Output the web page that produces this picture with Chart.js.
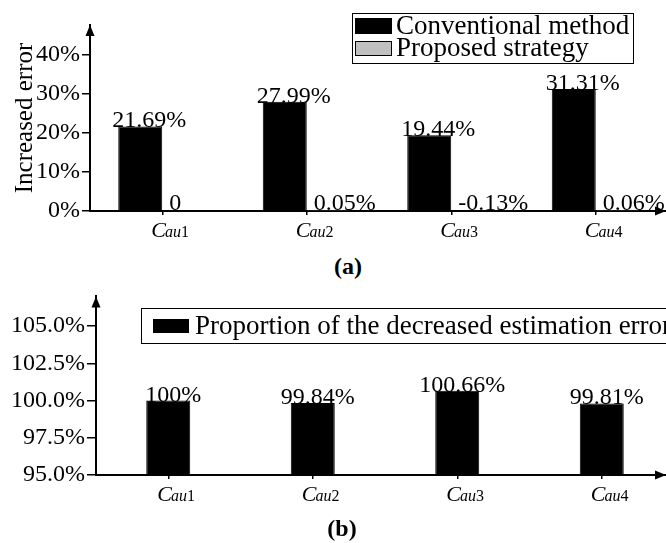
<!DOCTYPE html>
<html>
<head>
<meta charset="utf-8">
<script src="https://cdn.jsdelivr.net/npm/chart.js@4.4.0/dist/chart.umd.min.js"></script>
<style>
  body { margin: 0; background: #fff; }
  #wrap { position: relative; width: 666px; height: 543px; overflow: hidden; background: #fff; }
  canvas { position: absolute; left: 0; }
  .cap { position: absolute; font: bold 24px "Liberation Serif", serif; color: #000; transform: translateX(-50%); }
</style>
</head>
<body>
<div id="wrap">
  <canvas id="chartA" width="668" height="240" style="top:0"></canvas>
  <canvas id="chartB" width="674" height="240" style="top:280px"></canvas>
  <div class="cap" style="left:348px; top:253px">(a)</div>
  <div class="cap" style="left:342px; top:515px">(b)</div>
</div>
<script>
const categories = ['Cau1', 'Cau2', 'Cau3', 'Cau4'];
const conventional = [21.69, 27.99, 19.44, 31.31];
const proposed = [0, 0.05, -0.13, 0.06];
const proportion = [100, 99.84, 100.66, 99.81];
const ticksA = [0, 10, 20, 30, 40];
const ticksB = [95, 97.5, 100, 102.5, 105];

const serif = '"Liberation Serif", serif';
Chart.defaults.font.family = serif;
Chart.defaults.color = '#000';

function fmt(v) {
  if (v === 0) return '0';
  if (Number.isInteger(v)) return v + '%';
  return v.toFixed(2) + '%';
}

// arrow heads on both axes
const axisArrows = {
  id: 'axisArrows',
  afterDraw(chart) {
    const ctx = chart.ctx, a = chart.chartArea;
    ctx.save();
    ctx.fillStyle = '#000';
    ctx.beginPath();
    ctx.moveTo(a.left, a.top);
    ctx.lineTo(a.left - 4.5, a.top + 11);
    ctx.lineTo(a.left + 4.5, a.top + 11);
    ctx.closePath();
    ctx.fill();
    ctx.beginPath();
    ctx.moveTo(666, a.bottom);
    ctx.lineTo(655, a.bottom - 4.5);
    ctx.lineTo(655, a.bottom + 4.5);
    ctx.closePath();
    ctx.fill();
    ctx.restore();
  }
};

// category labels like C with subscript "au1"
const subLabels = {
  id: 'subLabels',
  afterDraw(chart) {
    const ctx = chart.ctx, xs = chart.scales.x, base = chart.chartArea.bottom + 26;
    ctx.save();
    ctx.fillStyle = '#000';
    ctx.textBaseline = 'alphabetic';
    ctx.textAlign = 'left';
    chart.data.labels.forEach((lab, i) => {
      let x = xs.getPixelForTick(i) - 11;
      ctx.font = 'italic 22px ' + serif;
      ctx.fillText(lab[0], x, base);
      x += ctx.measureText(lab[0]).width - 1;
      ctx.font = 'italic 16px ' + serif;
      ctx.fillText(lab.slice(1, -1), x, base);
      x += ctx.measureText(lab.slice(1, -1)).width;
      ctx.font = '16px ' + serif;
      ctx.fillText(lab.slice(-1), x, base);
    });
    ctx.restore();
  }
};

const barLabels = {
  id: 'barLabels',
  afterDatasetsDraw(chart, args, opts) {
    const ctx = chart.ctx;
    const zero = chart.scales.y.getPixelForValue(Math.max(0, chart.scales.y.min));
    ctx.save();
    ctx.fillStyle = '#000';
    ctx.font = '24px ' + serif;
    ctx.textBaseline = 'alphabetic';
    (opts.items || []).forEach(it => {
      const meta = chart.getDatasetMeta(it.dataset);
      const vals = chart.data.datasets[it.dataset].data;
      meta.data.forEach((bar, i) => {
        if (it.mode === 'base') {
          ctx.textAlign = 'left';
          ctx.fillText(fmt(vals[i]), bar.x - bar.width / 2 + it.dx, zero - 1);
        } else {
          ctx.textAlign = 'center';
          ctx.fillText(fmt(vals[i]), bar.x + it.dx, bar.y + 1);
        }
      });
    });
    ctx.restore();
  }
};

const boxLegend = {
  id: 'boxLegend',
  afterDraw(chart, args, opts) {
    const ctx = chart.ctx;
    ctx.save();
    ctx.strokeStyle = '#000';
    ctx.lineWidth = 1;
    ctx.strokeRect(opts.x + 0.5, opts.y + 0.5, opts.w, opts.h);
    ctx.font = opts.size + 'px ' + serif;
    ctx.textAlign = 'left';
    ctx.textBaseline = 'alphabetic';
    opts.rows.forEach((r, k) => {
      const ds = chart.data.datasets[k];
      ctx.fillStyle = ds.backgroundColor;
      ctx.fillRect(opts.sx, r.sy, opts.sw, r.sh);
      ctx.strokeRect(opts.sx + 0.5, r.sy + 0.5, opts.sw - 1, r.sh - 1);
      ctx.fillStyle = '#000';
      ctx.fillText(ds.label, opts.tx, r.base);
    });
    ctx.restore();
  }
};

new Chart(document.getElementById('chartA'), {
  type: 'bar',
  data: {
    labels: categories,
    datasets: [
      { label: 'Conventional method', data: conventional, backgroundColor: '#000', borderColor: '#000', borderWidth: 1 },
      { label: 'Proposed strategy', data: proposed, backgroundColor: '#c0c0c0', borderColor: '#000', borderWidth: 1 }
    ]
  },
  options: {
    responsive: false,
    animation: false,
    devicePixelRatio: 1,
    layout: { padding: { top: 25, left: 0, right: 0, bottom: 0 } },
    datasets: { bar: { categoryPercentage: 88 / 144.5, barPercentage: 1 } },
    plugins: {
      legend: { display: false },
      tooltip: { enabled: false },
      barLabels: { items: [{ dataset: 0, mode: 'top', dx: 9 }, { dataset: 1, mode: 'base', dx: 7 }] },
      boxLegend: { x: 352, y: 13, w: 281, h: 50, size: 27, sx: 355, sw: 37, tx: 396,
        rows: [{ sy: 18, sh: 16, base: 34 }, { sy: 41, sh: 15, base: 56 }] }
    },
    scales: {
      x: {
        grid: { drawOnChartArea: false, offset: false, tickLength: 4, color: '#000', lineWidth: 1.5 },
        border: { color: '#000', width: 2 },
        ticks: { display: false },
        afterFit(s) { s.height = 29; }
      },
      y: {
        min: 0,
        max: 47.7,
        afterBuildTicks(s) { s.ticks = ticksA.map(v => ({ value: v })); },
        grid: { drawOnChartArea: false, tickLength: 8, color: '#000', lineWidth: 1.5 },
        border: { color: '#000', width: 2 },
        ticks: { font: { size: 24 }, color: '#000', padding: 2, callback: v => v + '%' },
        title: { display: true, text: 'Increased error', font: { size: 25 }, color: '#000', padding: { top: 10, bottom: 0 } },
        afterFit(s) { s.width = 90; }
      }
    }
  },
  plugins: [barLabels, subLabels, axisArrows, boxLegend]
});

new Chart(document.getElementById('chartB'), {
  type: 'bar',
  data: {
    labels: categories,
    datasets: [
      { label: 'Proportion of the decreased estimation error', data: proportion, backgroundColor: '#000', borderColor: '#000', borderWidth: 1 }
    ]
  },
  options: {
    responsive: false,
    animation: false,
    devicePixelRatio: 1,
    layout: { padding: { top: 15, left: 0, right: 0, bottom: 0 } },
    datasets: { bar: { categoryPercentage: 44 / 144.5, barPercentage: 1 } },
    plugins: {
      legend: { display: false },
      tooltip: { enabled: false },
      barLabels: { items: [{ dataset: 0, mode: 'top', dx: 5 }] },
      boxLegend: { x: 141, y: 28, w: 600, h: 35, size: 27, sx: 153, sw: 36, tx: 195,
        rows: [{ sy: 39, sh: 14, base: 54 }] }
    },
    scales: {
      x: {
        grid: { drawOnChartArea: false, offset: false, tickLength: 4, color: '#000', lineWidth: 1.5 },
        border: { color: '#000', width: 2 },
        ticks: { display: false },
        afterFit(s) { s.height = 45; }
      },
      y: {
        min: 95,
        max: 107,
        afterBuildTicks(s) { s.ticks = ticksB.map(v => ({ value: v })); },
        grid: { drawOnChartArea: false, tickLength: 9, color: '#000', lineWidth: 1.5 },
        border: { color: '#000', width: 2 },
        ticks: { font: { size: 24 }, color: '#000', padding: 2, callback: v => v.toFixed(1) + '%' },
        afterFit(s) { s.width = 96; }
      }
    }
  },
  plugins: [barLabels, subLabels, axisArrows, boxLegend]
});
</script>
</body>
</html>
